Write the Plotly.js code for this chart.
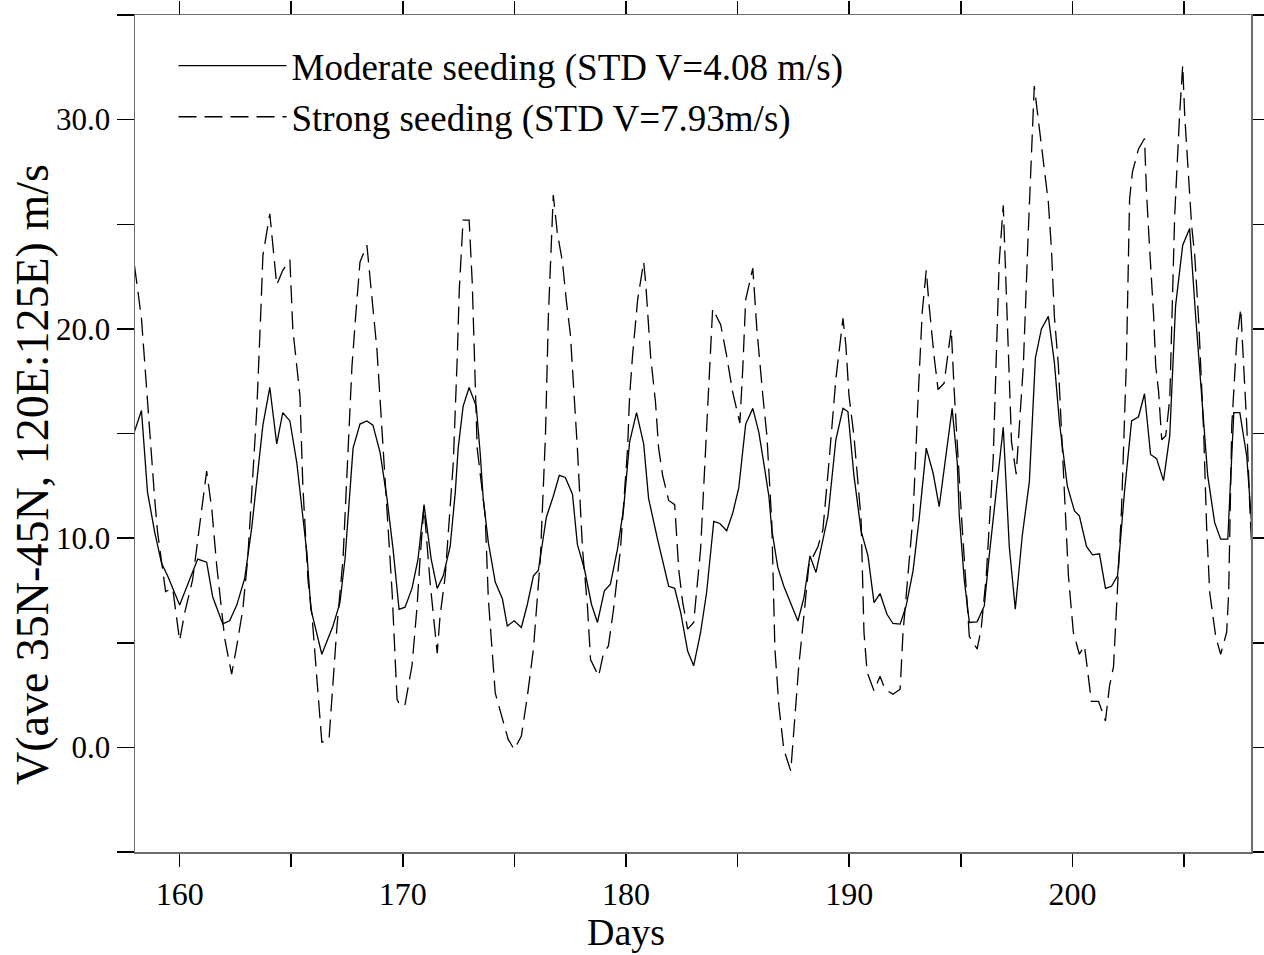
<!DOCTYPE html>
<html>
<head>
<meta charset="utf-8">
<script src="https://cdn.plot.ly/plotly-3.0.1.min.js"></script>
<style>html,body{margin:0;padding:0;background:#fff;}#chart{width:1264px;height:955px;}</style>
</head>
<body>
<div id="chart"></div>
<script>
// Moderate seeding (solid line)
const moderateDays = [157.98,158.29,158.56,158.88,159.19,159.46,160.00,160.81,161.21,161.48,161.93,162.24,162.56,162.92,163.23,163.50,163.73,164.04,164.35,164.62,164.94,165.25,165.48,165.70,165.88,166.37,166.87,167.18,167.41,167.77,168.08,168.39,168.66,168.98,169.29,169.56,169.83,170.10,170.41,170.68,170.95,171.27,171.54,171.81,172.12,172.35,172.48,172.70,172.97,173.29,173.47,173.60,173.83,174.14,174.46,174.68,174.99,175.31,175.58,175.85,176.07,176.43,176.74,177.01,177.28,177.60,177.82,178.14,178.45,178.72,179.03,179.30,179.62,179.89,180.16,180.47,180.79,181.01,181.41,181.91,182.18,182.45,182.76,183.03,183.34,183.61,183.93,184.20,184.51,184.78,185.05,185.36,185.68,185.95,186.17,186.40,186.53,186.80,187.07,187.38,187.70,187.97,188.24,188.51,188.73,189.05,189.40,189.72,189.94,190.21,190.53,190.84,191.11,191.38,191.69,191.96,192.28,192.55,192.86,193.13,193.45,193.76,194.03,194.30,194.61,194.84,194.93,195.15,195.38,195.73,196.05,196.27,196.59,196.90,197.17,197.44,197.75,198.07,198.34,198.61,198.92,199.19,199.42,199.77,200.09,200.31,200.63,200.90,201.21,201.48,201.75,202.02,202.33,202.65,202.96,203.23,203.50,203.77,204.08,204.36,204.62,204.94,205.25,205.52,206.06,206.37,206.64,206.96,207.23,207.50,207.81,208.13];
const moderateV = [15.1,16.1,12.2,10.3,8.8,8.2,6.8,9.0,8.85,7.2,5.9,6.05,6.8,8.1,10.5,13.0,15.4,17.2,14.5,16.0,15.6,13.6,11.5,9.3,6.6,4.45,5.8,6.9,9.0,14.3,15.45,15.6,15.4,14.1,11.9,9.5,6.6,6.7,7.6,9.0,11.6,9.0,7.6,8.2,9.6,12.2,14.3,16.3,17.2,16.3,14.0,11.9,9.8,7.9,7.1,5.8,6.05,5.73,6.84,8.2,8.45,11.0,12.0,13.0,12.9,12.1,9.7,8.5,6.84,5.97,7.48,7.8,9.5,11.4,14.6,16.0,14.5,11.9,9.95,7.7,7.6,6.44,4.6,3.9,5.5,7.4,10.8,10.7,10.35,11.2,12.4,15.45,16.2,15.05,13.6,12.0,10.4,8.6,7.7,6.92,6.04,7.16,9.15,8.36,9.47,11.07,14.7,16.2,16.05,13.0,10.35,9.15,6.92,7.35,6.36,5.92,5.89,6.76,8.45,10.9,14.3,13.1,11.5,13.6,16.2,13.6,11.07,8.04,5.97,6.0,6.76,9.15,12.2,15.3,9.6,6.6,10.1,12.7,18.6,20.0,20.6,18.4,15.5,12.5,11.3,11.07,9.6,9.2,9.25,7.6,7.7,8.2,12.2,15.6,15.8,16.9,14.0,13.8,12.75,14.9,21.1,24.0,24.8,20.6,13.0,10.75,9.95,9.95,16.0,16.0,13.9,9.15];

// Strong seeding (dashed line)
const strongDays = [157.98,158.29,158.88,159.01,159.37,159.69,160.00,160.22,160.58,160.99,161.21,161.44,161.66,162.02,162.33,162.56,162.83,163.05,163.46,163.64,163.73,164.04,164.35,164.62,164.94,165.07,165.39,165.52,165.75,165.93,166.15,166.37,166.69,166.82,167.05,167.32,167.72,167.90,168.08,168.39,168.62,168.84,169.07,169.29,169.52,169.74,169.88,170.10,170.41,170.64,170.77,170.95,171.22,171.54,171.67,171.90,172.26,172.44,172.53,172.70,172.97,173.11,173.20,173.33,173.69,173.83,174.14,174.46,174.72,174.99,175.31,175.58,175.85,176.16,176.39,176.52,176.70,176.74,176.92,177.15,177.33,177.51,177.64,177.82,178.05,178.27,178.41,178.77,178.99,179.21,179.44,179.75,180.07,180.16,180.29,180.52,180.79,180.88,181.10,181.32,181.46,181.64,181.91,182.18,182.36,182.54,182.76,183.03,183.34,183.57,183.88,184.24,184.51,184.78,185.10,185.23,185.36,185.68,185.86,186.13,186.31,186.53,186.67,186.85,187.07,187.38,187.52,187.74,187.97,188.19,188.60,188.82,189.09,189.40,189.72,189.85,189.99,190.21,190.53,190.66,190.80,191.11,191.38,191.60,191.96,192.28,192.41,192.64,192.86,193.09,193.27,193.45,193.58,193.80,193.98,194.25,194.57,194.70,194.88,195.02,195.38,195.73,195.91,196.14,196.45,196.59,196.72,196.90,197.13,197.27,197.48,197.71,197.80,198.02,198.16,198.29,198.47,198.70,198.92,199.06,199.19,199.37,199.51,199.64,199.82,200.04,200.31,200.54,200.85,201.17,201.48,201.66,201.84,202.06,202.20,202.42,202.56,202.69,202.96,203.23,203.32,203.46,203.64,203.73,203.86,204.00,204.18,204.36,204.58,204.80,204.94,205.03,205.21,205.34,205.48,205.66,205.88,206.01,206.15,206.42,206.64,206.91,207.00,207.14,207.27,207.36,207.54,207.68,207.81,207.95,208.13];
const strongV = [23.0,20.5,11.9,10.3,7.45,7.6,5.1,6.4,8.0,11.4,13.2,11.4,8.7,5.2,3.5,4.85,6.6,9.0,16.2,20.9,23.5,25.5,22.1,22.8,23.3,20.0,16.8,12.5,8.0,6.3,3.4,0.25,0.35,2.3,5.8,9.0,18.2,20.8,23.2,24.0,21.4,19.0,15.1,11.07,7.4,2.3,1.97,2.06,3.9,6.76,9.0,11.5,7.9,4.5,6.3,8.2,13.6,18.7,21.9,25.2,25.2,22.2,18.7,14.3,11.07,7.1,2.6,1.34,0.38,-0.1,0.54,2.45,4.7,9.0,14.9,20.6,24.9,26.4,24.6,23.2,21.3,19.7,17.4,14.3,9.47,6.76,4.2,3.4,4.5,4.85,6.6,9.47,14.3,16.8,18.7,21.4,23.2,22.2,18.7,16.5,14.3,13.0,11.8,11.6,8.5,6.92,5.65,5.97,9.47,14.4,20.96,20.2,18.7,16.96,15.5,18.1,21.4,22.9,20.0,16.8,14.9,10.75,4.7,1.97,-0.1,-1.13,0.7,3.9,6.3,8.7,9.6,10.4,13.6,17.6,20.5,19.2,16.8,14.9,10.9,5.5,3.6,2.7,3.4,2.78,2.54,2.78,5.5,8.2,11.07,16.8,20.8,22.8,21.1,18.7,17.1,17.4,20.0,17.1,13.8,11.2,5.3,4.7,5.65,8.2,13.8,18.4,23.2,25.9,18.6,14.6,13.06,16.5,18.25,24.6,28.6,31.6,30.0,28.1,26.06,23.8,20.6,18.25,15.4,12.2,8.2,5.5,4.45,4.85,2.2,2.2,1.26,2.93,3.85,8.36,11.4,18.5,26.2,27.5,28.6,29.1,26.5,23.8,20.6,18.25,17.0,14.7,14.9,16.65,25.4,30.2,32.6,30.2,27.0,24.95,23.5,20.3,15.05,10.6,7.4,5.3,4.45,5.5,7.4,15.4,17.8,19.4,20.96,18.25,15.4,11.4,7.4];

const seriesNames = ["Moderate seeding (STD V=4.08 m/s)", "Strong seeding (STD V=7.93m/s)"];
const xTitle = "Days";
const yTitle = "V(ave 35N-45N, 120E:125E) m/s";
const xTickVals = [160,165,170,175,180,185,190,195,200,205];
const xTickText = ["160","","170","","180","","190","","200",""];
const yTickVals = [-5,0,5,10,15,20,25,30,35];
const yTickText = ["","0.0","","10.0","","20.0","","30.0",""];

const FONT = "'Liberation Serif', 'Times New Roman', serif";

const traces = [
  {x: moderateDays, y: moderateV, type: "scatter", mode: "lines", name: seriesNames[0],
   line: {color: "#000", width: 1.3}},
  {x: strongDays, y: strongV, type: "scatter", mode: "lines", name: seriesNames[1],
   line: {color: "#000", width: 1.3, dash: "18px,8px"}}
];

const layout = {
  width: 1264, height: 955,
  margin: {l: 135, r: 13, t: 15, b: 103, pad: 0},
  paper_bgcolor: "#fff", plot_bgcolor: "#fff",
  font: {family: FONT, color: "#000", size: 30},
  showlegend: true,
  legend: {x: 0.0345, y: 0.976, xanchor: "left", yanchor: "top", bgcolor: "rgba(0,0,0,0)",
           font: {family: FONT, size: 37, color: "#000"}, itemwidth: 108, tracegroupgap: 0},
  xaxis: {
    range: [158, 208], tickmode: "array", tickvals: xTickVals, ticktext: xTickText,
    ticks: "outside", ticklen: 13, tickwidth: 1.5, tickcolor: "#000",
    showline: true, linecolor: "#6e6e6e", linewidth: 1.5, mirror: "ticks",
    showgrid: false, zeroline: false,
    tickfont: {family: FONT, size: 32, color: "#000"}
  },
  yaxis: {
    range: [-5, 35], tickmode: "array", tickvals: yTickVals, ticktext: yTickText,
    ticks: "outside", ticklen: 17, tickwidth: 1.5, tickcolor: "#000",
    showline: true, linecolor: "#6e6e6e", linewidth: 1.5, mirror: "ticks",
    showgrid: false, zeroline: false,
    tickfont: {family: FONT, size: 31, color: "#000"}
  },
  annotations: [
    {text: xTitle, xref: "paper", yref: "paper", x: 0.44, y: -0.0956, xanchor: "center", yanchor: "middle",
     showarrow: false, font: {family: FONT, size: 38, color: "#000"}},
    {text: yTitle, xref: "paper", yref: "paper", x: -0.0923, y: 0.4516, xanchor: "center", yanchor: "middle",
     textangle: -90, showarrow: false, font: {family: FONT, size: 46, color: "#000"}}
  ]
};

Plotly.newPlot("chart", traces, layout, {displayModeBar: false, staticPlot: true});
</script>
</body>
</html>
